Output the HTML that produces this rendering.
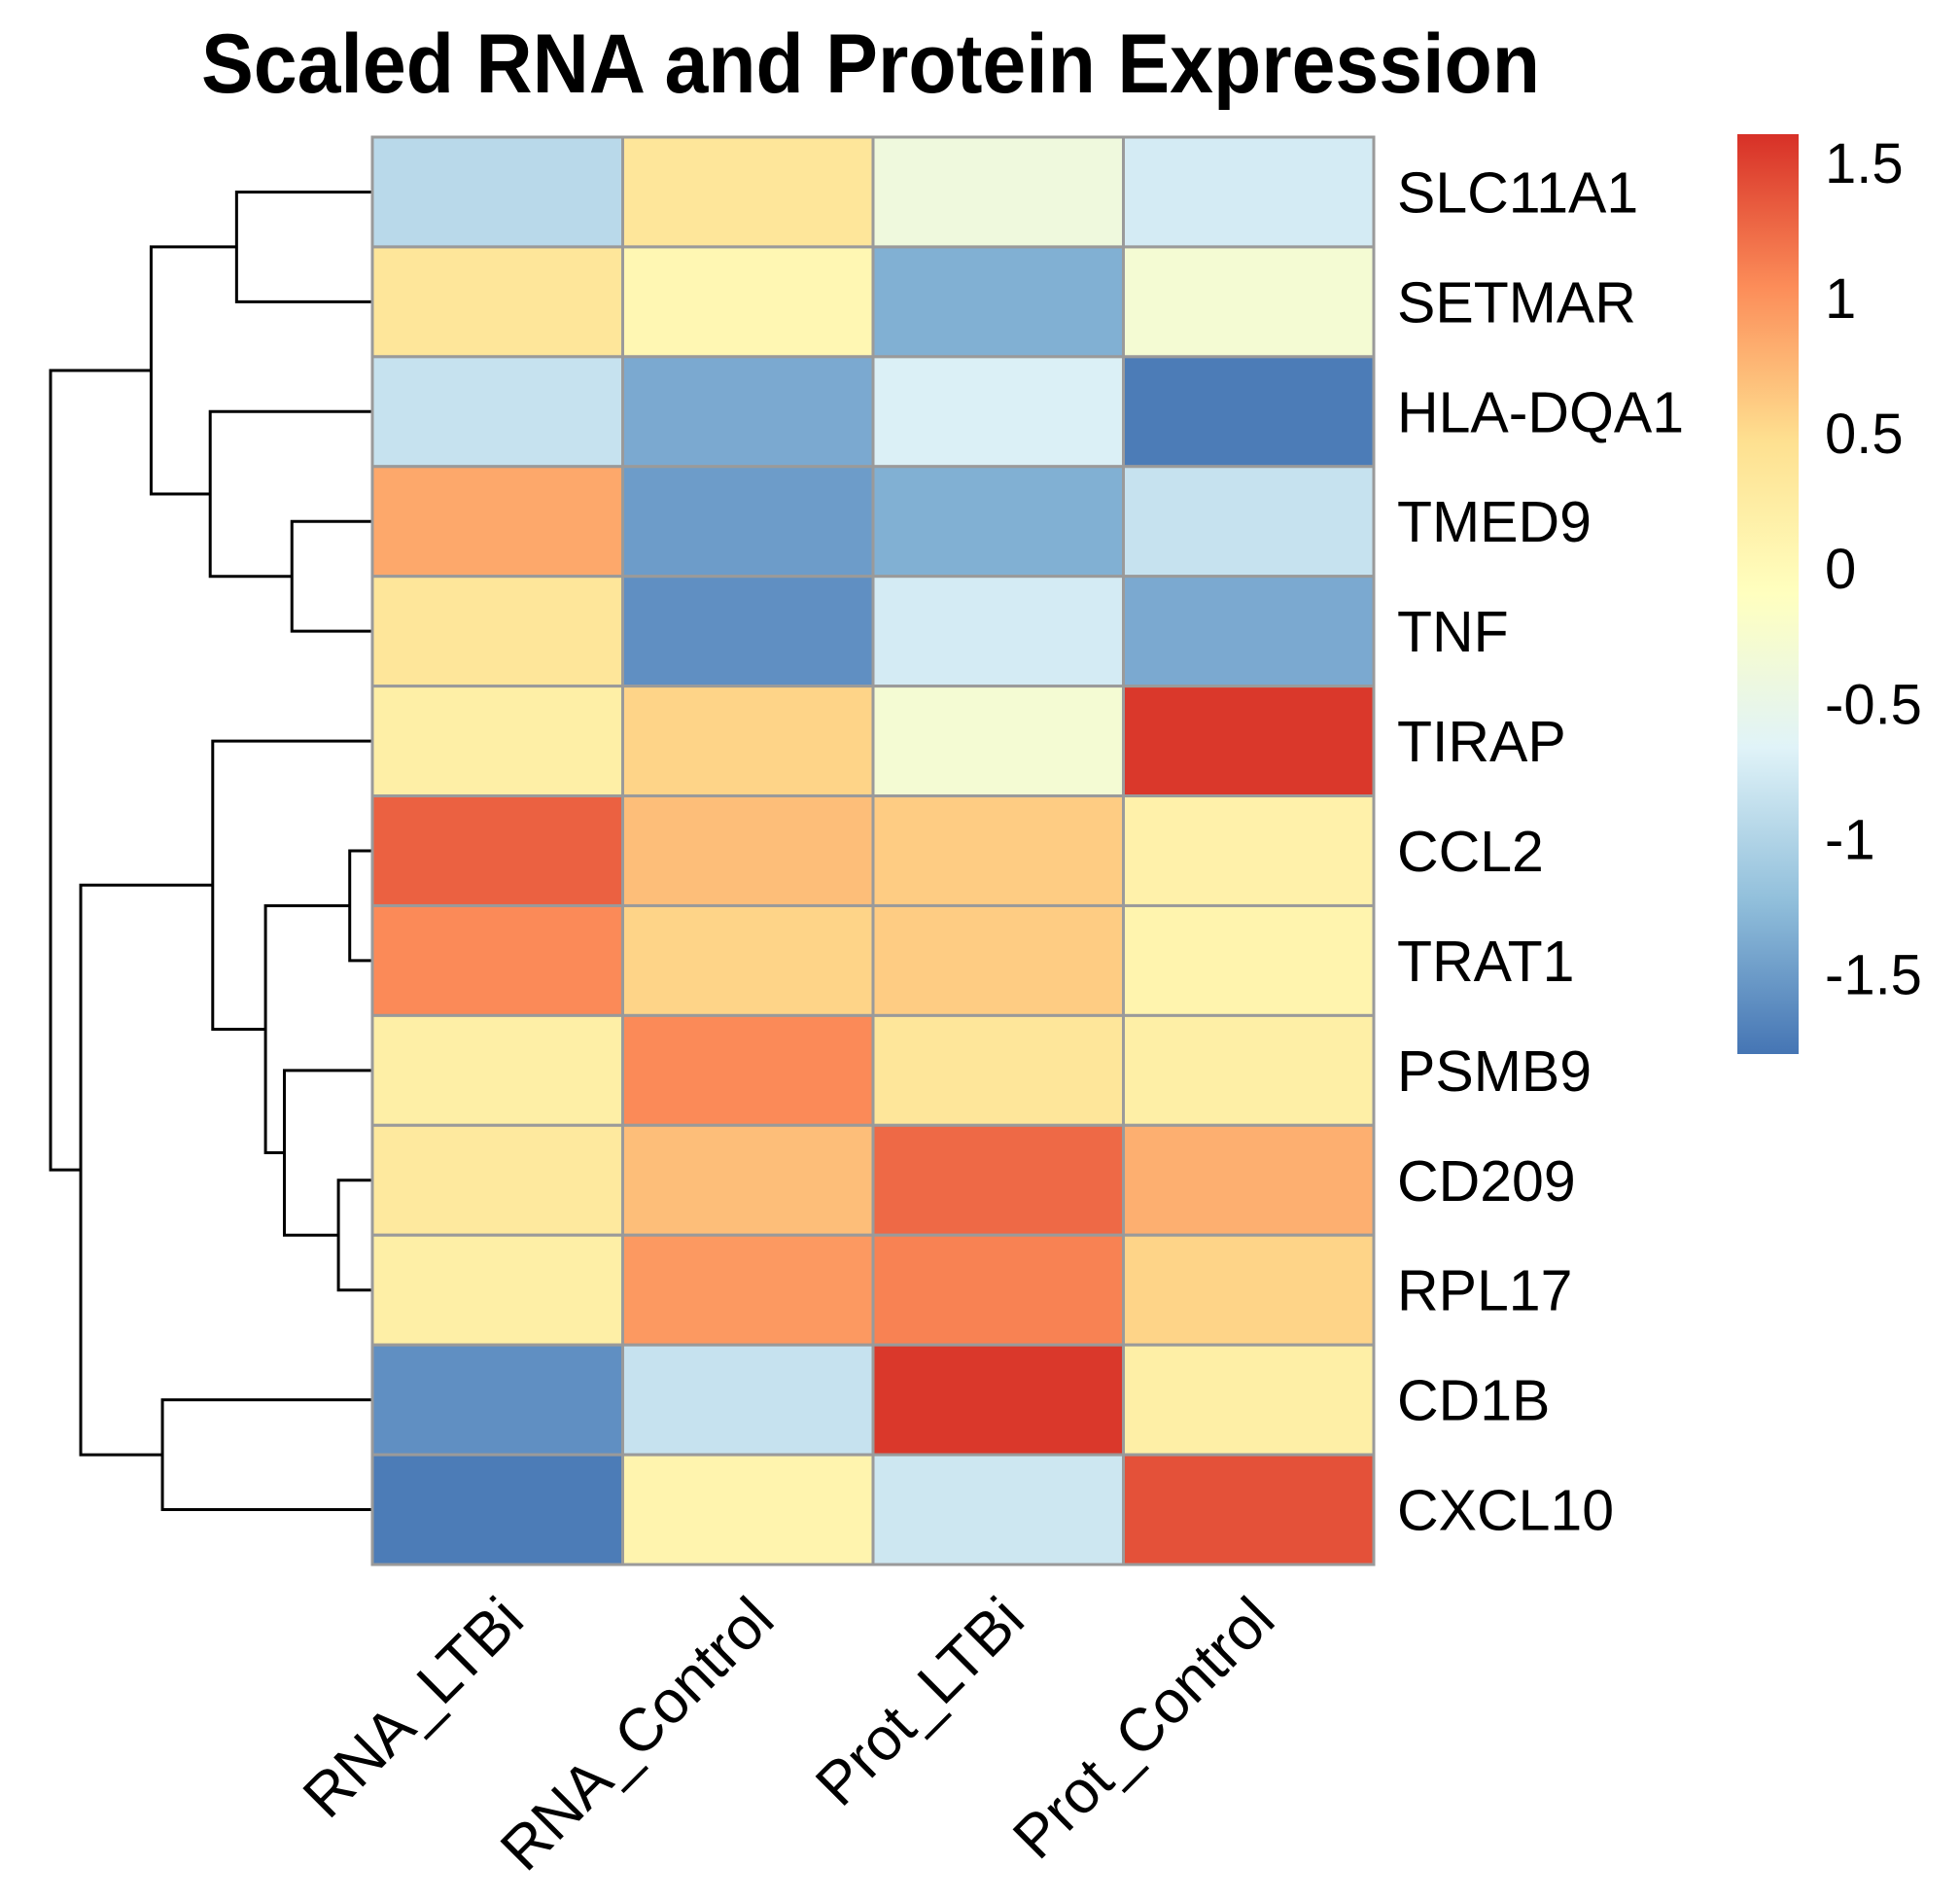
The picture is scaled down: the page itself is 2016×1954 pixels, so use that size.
<!DOCTYPE html>
<html><head><meta charset="utf-8"><style>
html,body{margin:0;padding:0;background:#fff;}
svg{display:block;font-family:"Liberation Sans",sans-serif;}
</style></head><body>
<svg id="chart" width="2016" height="1954" viewBox="0 0 2016 1954" xmlns="http://www.w3.org/2000/svg">
<text x="207" y="95" font-size="86" font-weight="bold" textLength="1377" lengthAdjust="spacingAndGlyphs">Scaled RNA and Protein Expression</text>
<g id="dendro"></g>
<g id="cells"></g>
<g id="rowlabels"></g>
<g id="collabels"></g>
<g id="legend"></g>
</svg>
<script>
const genes = ["SLC11A1","SETMAR","HLA-DQA1","TMED9","TNF","TIRAP","CCL2","TRAT1","PSMB9","CD209","RPL17","CD1B","CXCL10"];
const samples = ["RNA_LTBi","RNA_Control","Prot_LTBi","Prot_Control"];
const values = [
 [-0.95, 0.35, -0.4, -0.75],
 [0.35, 0.05, -1.35, -0.3],
 [-0.85, -1.4, -0.7, -1.75],
 [0.85, -1.5, -1.35, -0.85],
 [0.35, -1.6, -0.75, -1.4],
 [0.2, 0.55, -0.3, 1.55],
 [1.3, 0.7, 0.6, 0.15],
 [1.05, 0.55, 0.6, 0.1],
 [0.2, 1.05, 0.35, 0.2],
 [0.3, 0.7, 1.25, 0.8],
 [0.2, 0.95, 1.1, 0.55],
 [-1.6, -0.85, 1.55, 0.2],
 [-1.75, 0.1, -0.8, 1.4]
];
const legendTicks = [1.5, 1, 0.5, 0, -0.5, -1, -1.5];
const legendTickLabels = ["1.5","1","0.5","0","-0.5","-1","-1.5"];
// dendrogram merges: [left, right, height]; leaves are 0..12, internal nodes 13+
const merges = [[0,1,108],[3,4,64],[2,14,129],[13,15,176],[6,7,18],[9,10,27],[8,18,70],[17,19,85],[5,20,127],[11,12,167],[21,22,232],[16,23,256]];

const NS="http://www.w3.org/2000/svg";
function mk(tag,attrs,parent){const e=document.createElementNS(NS,tag);for(const k in attrs)e.setAttribute(k,attrs[k]);parent.appendChild(e);return e;}
const L=383,R=1413,T=141,B=1609;
const cw=(R-L)/samples.length, rh=(B-T)/genes.length;
const vmin=-1.8,vmax=1.6;
const pal=["#4575B4","#91BFDB","#E0F3F8","#FFFFBF","#FEE090","#FC8D59","#D73027"];
function hex(c){return [1,3,5].map(i=>parseInt(c.substr(i,2),16));}
function color(v){let t=(v-vmin)/(vmax-vmin);t=Math.max(0,Math.min(1,t));const p=t*(pal.length-1);const i=Math.min(Math.floor(p),pal.length-2);const f=p-i;const a=hex(pal[i]),b=hex(pal[i+1]);return "rgb("+a.map((x,k)=>Math.round(x+(b[k]-x)*f)).join(",")+")";}
const xCol=j=>L+j*cw, yRow=i=>T+i*rh;

const cells=document.getElementById('cells');
values.forEach((row,i)=>row.forEach((v,j)=>{
  const r=mk('rect',{x:xCol(j),y:yRow(i),width:cw,height:rh,fill:color(v),stroke:"#9a9a9a","stroke-width":3},cells);
  
  
}));

const rl=document.getElementById('rowlabels');
genes.forEach((g,i)=>{
  const t=mk('text',{x:1437,y:yRow(i)+rh/2+21,"font-size":59},rl);t.textContent=g;
  
  
});
const cl=document.getElementById('collabels');
samples.forEach((s,j)=>{
  const cx=xCol(j)+cw/2+30, cy=1669;
  const t=mk('text',{x:cx,y:cy,"font-size":62,"text-anchor":"end",transform:"rotate(-45 "+cx+" "+cy+")"},cl);t.textContent=s;
  
  
});

// dendrogram
const dg=document.getElementById('dendro');
const hs=1.293;
const pos={};
genes.forEach((g,i)=>pos[i]={y:yRow(i)+rh/2,h:0});
merges.forEach((m,k)=>{
  const a=pos[m[0]],b=pos[m[1]],id=genes.length+k;
  const x=L-m[2]*hs, xa=L-a.h*hs, xb=L-b.h*hs;
  const p=mk('path',{d:`M${xa},${a.y}H${x}V${b.y}H${xb}`,fill:"none",stroke:"#000","stroke-width":3},dg);
  
  
  pos[id]={y:(a.y+b.y)/2,h:m[2]};
});

// legend
const lg=document.getElementById('legend');
const LT=138,LB=1084,LX=1787,LW=63;
const defs=mk('defs',{},lg);
const gr=mk('linearGradient',{id:"lgrad",x1:0,y1:1,x2:0,y2:0},defs);
pal.forEach((c,i)=>mk('stop',{offset:i/(pal.length-1),"stop-color":c},gr));
const lr=mk('rect',{x:LX,y:LT,width:LW,height:LB-LT,fill:"url(#lgrad)"},lg);


const ly=v=>LB-(v-vmin)/(vmax-vmin)*(LB-LT);
legendTicks.forEach((v,i)=>{
  const t=mk('text',{x:1877,y:ly(v)+22,"font-size":58},lg);t.textContent=legendTickLabels[i];
  
  
});
</script>
</body></html>
